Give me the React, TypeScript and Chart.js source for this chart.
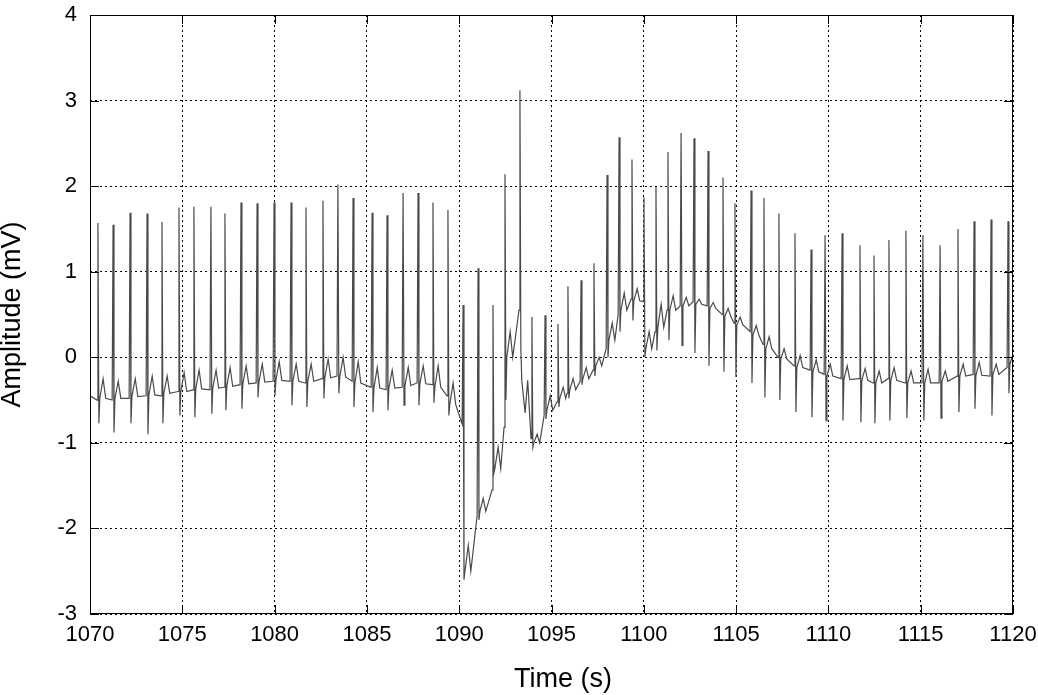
import React, { useEffect, useRef } from "react";
import { Chart, registerables } from "chart.js";

Chart.register(...registerables);

// Beat (R-peak) times in seconds
const beatTimes = [1070.43, 1071.25, 1072.17, 1073.09, 1073.90, 1074.82, 1075.63, 1076.55, 1077.31, 1078.18, 1079.05, 1079.97, 1080.89, 1081.70, 1082.62, 1083.43, 1084.25, 1085.28, 1086.09, 1086.96, 1087.77, 1088.58, 1089.39,
  1090.21, 1091.02, 1091.83, 1092.48, 1093.29, 1093.94,
  1094.65, 1095.35, 1095.89, 1096.60, 1097.30, 1098.01, 1098.66, 1099.36, 1100.01, 1100.66, 1101.31, 1102.02, 1102.72, 1103.48, 1104.29, 1104.94, 1105.81, 1106.51, 1107.32, 1108.19, 1109.06, 1109.82, 1110.74, 1111.71, 1112.47, 1113.28, 1114.20, 1115.12, 1116.05, 1117.02, 1117.89, 1118.81, 1119.73];

// Baseline value just before each spike (mV)
const baseVals = [-0.50, -0.50, -0.48, -0.45, -0.45, -0.40, -0.38, -0.38, -0.35, -0.32, -0.30, -0.28, -0.28, -0.30, -0.25, -0.22, -0.28, -0.35, -0.38, -0.35, -0.30, -0.32, -0.45,
  -0.78, -1.85, -1.55, -0.82, 0.55, -0.95,
  -0.68, -0.52, -0.42, -0.28, -0.15, 0.10, 0.50, 0.68, 0.65, 0.30, 0.55, 0.60, 0.65, 0.60, 0.50, 0.40, 0.30, 0.15, 0.00, -0.10, -0.15, -0.20, -0.25, -0.25, -0.30, -0.25, -0.30, -0.30, -0.30, -0.22, -0.20, -0.22, -0.12];

// Spike peak values (mV)
const peakVals = [1.57, 1.55, 1.69, 1.68, 1.58, 1.75, 1.76, 1.76, 1.68, 1.81, 1.80, 1.81, 1.81, 1.75, 1.83, 2.02, 1.86, 1.69, 1.66, 1.92, 1.92, 1.81, 1.72,
  0.61, 1.04, 0.61, 2.14, 3.12, 0.47,
  0.49, 0.39, 0.83, 0.90, 1.10, 2.13, 2.57, 2.31, 1.87, 1.99, 2.40, 2.62, 2.56, 2.41, 2.10, 1.80, 1.95, 1.86, 1.68, 1.45, 1.26, 1.43, 1.45, 1.31, 1.19, 1.37, 1.48, 1.43, 1.31, 1.50, 1.59, 1.61, 1.59];

// Trough just after each spike (mV)
const troughVals = [-0.77, -0.88, -0.77, -0.90, -0.77, -0.68, -0.70, -0.66, -0.62, -0.60, -0.47, -0.45, -0.56, -0.58, -0.48, -0.42, -0.58, -0.64, -0.62, -0.56, -0.56, -0.53, -0.68,
  -2.60, -1.90, -1.35, -0.50, 0.10, -1.05,
  -0.72, -0.58, -0.48, -0.32, -0.22, 0.00, 0.30, 0.43, 0.00, 0.08, 0.20, 0.14, 0.05, -0.10, -0.17, -0.23, -0.30, -0.47, -0.50, -0.64, -0.70, -0.74, -0.74, -0.76, -0.77, -0.74, -0.71, -0.74, -0.71, -0.64, -0.60, -0.68, -0.42];

// Level the trace returns to right after each spike (mV)
const postVals = [-0.48, -0.48, -0.46, -0.44, -0.42, -0.40, -0.37, -0.36, -0.34, -0.31, -0.29, -0.27, -0.28, -0.28, -0.24, -0.23, -0.30, -0.36, -0.36, -0.33, -0.31, -0.35, -0.55,
  -2.50, -1.80, -1.30, 0.00, -0.27, -1.00,
  -0.62, -0.48, -0.38, -0.25, -0.10, 0.20, 0.55, 0.66, 0.10, 0.35, 0.55, 0.60, 0.62, 0.57, 0.48, 0.38, 0.26, 0.10, -0.02, -0.12, -0.17, -0.22, -0.26, -0.27, -0.30, -0.27, -0.30, -0.30, -0.28, -0.22, -0.21, -0.20, -0.08];

// T-wave value after each beat (mV)
const tWaveVals = [-0.25, -0.28, -0.25, -0.22, -0.22, -0.18, -0.15, -0.15, -0.12, -0.10, -0.08, -0.05, -0.08, -0.08, -0.02, 0.00, -0.05, -0.12, -0.15, -0.12, -0.10, -0.10, -0.30,
  -2.20, -1.65, -1.05, 0.30, -0.65, -0.90,
  -0.45, -0.35, -0.25, -0.12, 0.00, 0.40, 0.75, 0.80, 0.30, 0.62, 0.72, 0.70, 0.68, 0.64, 0.57, 0.47, 0.37, 0.24, 0.10, 0.02, -0.03, -0.08, -0.10, -0.13, -0.16, -0.12, -0.16, -0.14, -0.16, -0.08, -0.06, -0.08, 0.04];

const startPoint = { x: 1070, y: -0.45 };
const endPoint = { x: 1120, y: 0.05 };

const xTicks = [1070, 1075, 1080, 1085, 1090, 1095, 1100, 1105, 1110, 1115, 1120];
const yTicks = [-3, -2, -1, 0, 1, 2, 3, 4];
const xTitle = "Time (s)";
const yTitle = "Amplitude (mV)";

const FONT = '"Liberation Sans", Arial, Helvetica, sans-serif';

function buildPoints() {
  const pts: { x: number; y: number }[] = [startPoint];
  for (let i = 0; i < beatTimes.length; i++) {
    const t = beatTimes[i];
    pts.push({ x: t - 0.05, y: baseVals[i] });
    pts.push({ x: t, y: peakVals[i] });
    pts.push({ x: t + 0.05, y: troughVals[i] });
    pts.push({ x: t + 0.1, y: postVals[i] });
    pts.push({ x: t + 0.28, y: tWaveVals[i] });
    pts.push({ x: t + 0.42, y: postVals[i] });
  }
  pts.push(endPoint);
  return pts;
}

const framePlugin = {
  id: "frame",
  afterDraw(chart: any) {
    const { ctx, chartArea } = chart;
    const { left, right, top, bottom } = chartArea;
    const xs = chart.scales.x;
    const ys = chart.scales.y;
    ctx.save();
    ctx.strokeStyle = "#000";
    ctx.lineWidth = 1;
    ctx.setLineDash([]);
    ctx.strokeRect(left + 0.5, top + 0.5, right - left - 1, bottom - top - 1);
    const tl = 9;
    ctx.beginPath();
    xTicks.forEach((v) => {
      const px = Math.round(xs.getPixelForValue(v)) + 0.5;
      ctx.moveTo(px, bottom);
      ctx.lineTo(px, bottom - tl);
      ctx.moveTo(px, top);
      ctx.lineTo(px, top + tl);
    });
    yTicks.forEach((v) => {
      const py = Math.round(ys.getPixelForValue(v)) + 0.5;
      ctx.moveTo(left, py);
      ctx.lineTo(left + tl, py);
      ctx.moveTo(right, py);
      ctx.lineTo(right - tl, py);
    });
    ctx.stroke();
    // axis titles
    ctx.fillStyle = "#000";
    ctx.font = `27px ${FONT}`;
    ctx.textAlign = "center";
    ctx.textBaseline = "middle";
    ctx.fillText(xTitle, 563, 680);
    ctx.translate(13, (top + bottom) / 2);
    ctx.rotate(-Math.PI / 2);
    ctx.fillText(yTitle, 0, 0);
    ctx.restore();
  },
};

export default function App() {
  const ref = useRef<HTMLCanvasElement | null>(null);
  useEffect(() => {
    document.body.style.margin = "0";
    const canvas = ref.current;
    if (!canvas) return;
    const chart = new Chart(canvas, {
      type: "line",
      data: {
        datasets: [
          {
            data: buildPoints(),
            borderColor: "#4a4a4a",
            borderWidth: 1.2,
            pointRadius: 0,
            tension: 0,
            fill: false,
          },
        ],
      },
      options: {
        responsive: false,
        animation: false,
        layout: { padding: { top: 15, right: 25, left: 0, bottom: 0 } },
        plugins: { legend: { display: false }, tooltip: { enabled: false } },
        scales: {
          x: {
            type: "linear",
            min: 1070,
            max: 1120,
            afterFit: (s: any) => {
              s.height = 81;
              s.paddingLeft = 0;
              s.paddingRight = 0;
            },
            afterBuildTicks: (s: any) => {
              s.ticks = xTicks.map((v) => ({ value: v }));
            },
            ticks: {
              color: "#000",
              padding: 8,
              maxRotation: 0,
              autoSkip: false,
              font: { family: FONT, size: 22 },
              callback: (v: any) => String(v),
            },
            grid: { color: "#000", lineWidth: 1, drawTicks: false },
            border: { display: false, dash: [2, 3] },
          },
          y: {
            type: "linear",
            min: -3,
            max: 4,
            afterFit: (s: any) => {
              s.width = 90;
              s.paddingTop = 0;
              s.paddingBottom = 0;
            },
            afterBuildTicks: (s: any) => {
              s.ticks = yTicks.map((v) => ({ value: v }));
            },
            ticks: {
              color: "#000",
              padding: 13,
              autoSkip: false,
              font: { family: FONT, size: 22 },
              callback: (v: any) => String(v),
            },
            grid: { color: "#000", lineWidth: 1, drawTicks: false },
            border: { display: false, dash: [2, 3] },
          },
        },
      },
      plugins: [framePlugin],
    });
    return () => chart.destroy();
  }, []);
  return (
    <div style={{ position: "absolute", left: 0, top: 0, width: 1038, height: 695 }}>
      <canvas ref={ref} width={1038} height={695} style={{ display: "block" }} />
    </div>
  );
}
